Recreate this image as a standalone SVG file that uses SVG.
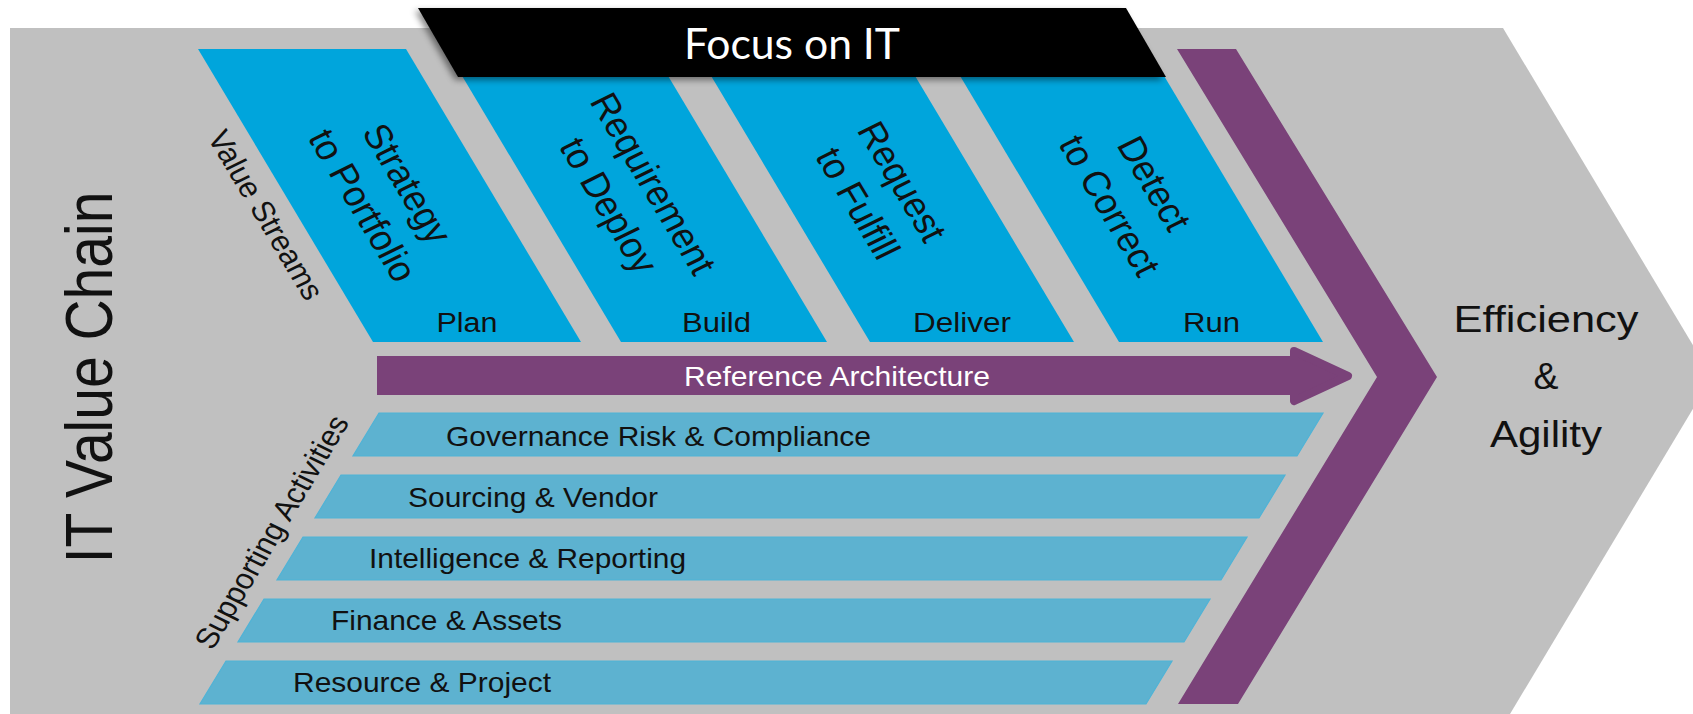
<svg xmlns="http://www.w3.org/2000/svg" width="1693" height="714" viewBox="0 0 1693 714">
<defs>
<filter id="shadow" x="-10%" y="-40%" width="120%" height="180%">
<feDropShadow dx="-3" dy="3" stdDeviation="3" flood-color="#000" flood-opacity="0.45"/>
</filter>
<style>
text { font-family: "Liberation Sans", Arial, sans-serif; fill: #111; }
.stream { fill: #00A5DC; }
.bar { fill: #5DB2D0; stroke: #4FB3D6; stroke-width: 1.2; }
.purple { fill: #7A4279; }
.lbl { font-size: 27px; text-anchor: middle; }
.vs { font-size: 35px; text-anchor: middle; }
.bartxt { font-size: 28px; }
.side { font-size: 29px; text-anchor: middle; }
.out { font-size: 37.5px; text-anchor: middle; }
</style>
</defs>
<rect width="1693" height="714" fill="#ffffff"/>
<g id="background">
<polygon points="10,28 1503,28 1712,377 1510,714 10,714" fill="#C0C0C0"/>
</g>
<g id="title">
<text transform="translate(112,377.5) scale(1.18,1) rotate(-90)" font-size="57" text-anchor="middle">IT Value Chain</text>
</g>
<g id="value-streams-label">
<text class="side" transform="translate(266,215) scale(1.1,1) rotate(61.4)" y="10">Value Streams</text>
</g>
<g id="supporting-label">
<text class="side" transform="translate(271.5,532) scale(1.1,1) rotate(-61.4)" y="10">Supporting Activities</text>
</g>
<g id="stream-plan">
<polygon class="stream" points="198,49 406,49 581,342 373,342"/>
<g transform="translate(386,194) scale(1.1,1) rotate(61.4)">
<text class="vs" y="-10">Strategy</text>
<text class="vs" y="36">to Portfolio</text>
</g>
<text class="lbl" x="467" y="332" textLength="61" lengthAdjust="spacingAndGlyphs">Plan</text>
</g>
<g id="stream-build">
<polygon class="stream" points="446,49 652,49 827,342 621,342"/>
<g transform="translate(632,194) scale(1.1,1) rotate(61.4)">
<text class="vs" y="-10">Requirement</text>
<text class="vs" y="36">to Deploy</text>
</g>
<text class="lbl" x="716.5" y="332" textLength="69" lengthAdjust="spacingAndGlyphs">Build</text>
</g>
<g id="stream-deliver">
<polygon class="stream" points="695,49 899,49 1074,342 870,342"/>
<g transform="translate(881,192) scale(1.1,1) rotate(61.4)">
<text class="vs" y="-10">Request</text>
<text class="vs" y="36">to Fulfill</text>
</g>
<text class="lbl" x="962" y="332" textLength="98" lengthAdjust="spacingAndGlyphs">Deliver</text>
</g>
<g id="stream-run">
<polygon class="stream" points="944,49 1148,49 1323,342 1119,342"/>
<g transform="translate(1133,194) scale(1.1,1) rotate(61.4)">
<text class="vs" y="-10">Detect</text>
<text class="vs" y="36">to Correct</text>
</g>
<text class="lbl" x="1211.5" y="332" textLength="57" lengthAdjust="spacingAndGlyphs">Run</text>
</g>
<g id="banner">
<polygon points="418,8 1126,8 1166,77 458,77" fill="#000" filter="url(#shadow)"/>
<text x="792" y="59" font-size="43" text-anchor="middle" style="fill:#fff;font-family:Lato,'Open Sans',sans-serif" textLength="216" lengthAdjust="spacingAndGlyphs">Focus on IT</text>
</g>
<g id="reference-architecture">
<rect class="purple" x="377" y="356" width="920" height="39"/>
<polygon class="purple" points="1294,351 1348,376 1294,401" stroke="#7A4279" stroke-width="8" stroke-linejoin="round"/>
<text x="837" y="386" font-size="28" text-anchor="middle" style="fill:#fff" textLength="306" lengthAdjust="spacingAndGlyphs">Reference Architecture</text>
</g>
<g id="bar-governance">
<polygon class="bar" points="379,413 1323,413 1297,456 353,456"/>
<text class="bartxt" x="446" y="446" textLength="425" lengthAdjust="spacingAndGlyphs">Governance Risk &amp; Compliance</text>
</g>
<g id="bar-sourcing">
<polygon class="bar" points="341,475 1285,475 1259,518 315,518"/>
<text class="bartxt" x="408" y="507" textLength="250" lengthAdjust="spacingAndGlyphs">Sourcing &amp; Vendor</text>
</g>
<g id="bar-intelligence">
<polygon class="bar" points="303,537 1247,537 1221,580 277,580"/>
<text class="bartxt" x="369" y="568" textLength="317" lengthAdjust="spacingAndGlyphs">Intelligence &amp; Reporting</text>
</g>
<g id="bar-finance">
<polygon class="bar" points="264,599 1210,599 1184,642 238,642"/>
<text class="bartxt" x="331" y="630" textLength="231" lengthAdjust="spacingAndGlyphs">Finance &amp; Assets</text>
</g>
<g id="bar-resource">
<polygon class="bar" points="226,661 1172,661 1146,704 200,704"/>
<text class="bartxt" x="293" y="692" textLength="258" lengthAdjust="spacingAndGlyphs">Resource &amp; Project</text>
</g>
<g id="chevron">
<polygon class="purple" points="1177,49 1236,49 1437,377 1238,704 1178,704 1377,377"/>
</g>
<g id="outcome">
<text class="out" x="1546" y="332" textLength="185" lengthAdjust="spacingAndGlyphs">Efficiency</text>
<text class="out" x="1546" y="389">&amp;</text>
<text class="out" x="1546" y="447" textLength="112" lengthAdjust="spacingAndGlyphs">Agility</text>
</g>
<g id="connectors"></g>
</svg>
